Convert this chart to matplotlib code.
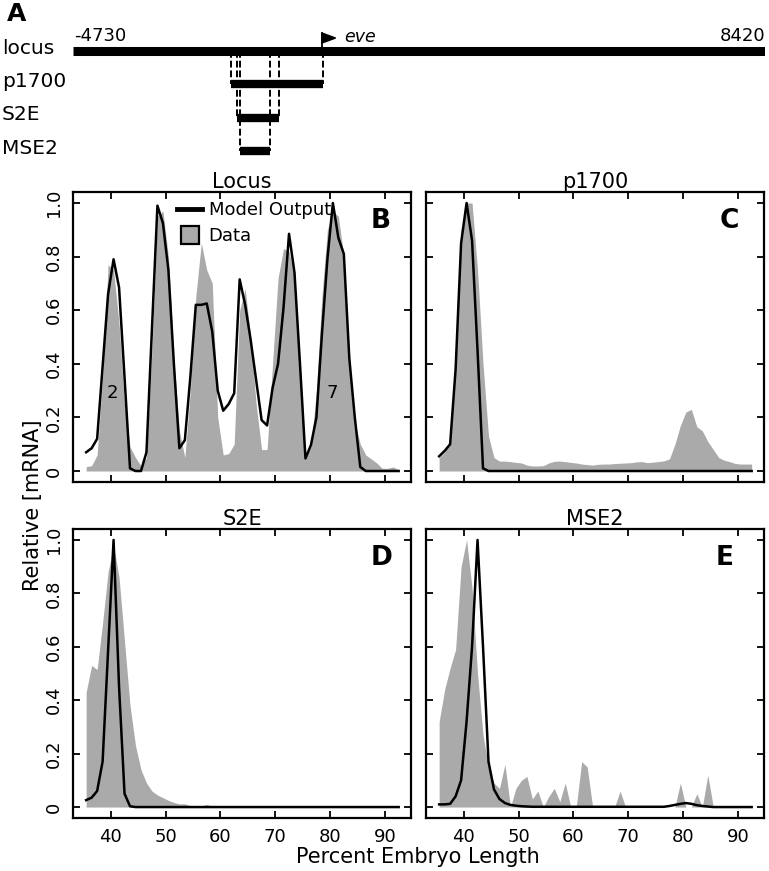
import matplotlib
matplotlib.use("Agg")
import matplotlib.pyplot as plt
from matplotlib.lines import Line2D
from matplotlib.patches import Polygon

plt.rcParams["font.family"] = ["DejaVu Sans"]

# ---- panel A: constructs on the eve locus (bp relative to TSS)
locus_start, locus_end = -4730, 8420
tss = 0
constructs = ["p1700", "S2E", "MSE2"]
construct_start = [-1730, -1620, -1560]
construct_end = [30, -820, -990]

# ---- panels B-E: expression along the embryo (% embryo length)
position = [35.5, 36.5, 37.5, 38.5, 39.5, 40.5, 41.5, 42.5, 43.5, 44.5,
            45.5, 46.5, 47.5, 48.5, 49.5, 50.5, 51.5, 52.5, 53.5, 54.5,
            55.5, 56.5, 57.5, 58.5, 59.5, 60.5, 61.5, 62.5, 63.5, 64.5,
            65.5, 66.5, 67.5, 68.5, 69.5, 70.5, 71.5, 72.5, 73.5, 74.5,
            75.5, 76.5, 77.5, 78.5, 79.5, 80.5, 81.5, 82.5, 83.5, 84.5,
            85.5, 86.5, 87.5, 88.5, 89.5, 90.5, 91.5, 92.5]

model_locus = [0.07, 0.085, 0.12, 0.39, 0.66, 0.79, 0.685, 0.35, 0.01, 0.0,
               0.0, 0.07, 0.53, 0.99, 0.925, 0.75, 0.40, 0.085, 0.115, 0.35,
               0.62, 0.62, 0.625, 0.52, 0.30, 0.225, 0.25, 0.29, 0.715, 0.62,
               0.49, 0.34, 0.19, 0.17, 0.31, 0.40, 0.61, 0.885, 0.74, 0.40,
               0.047, 0.097, 0.20, 0.51, 0.79, 1.0, 0.87, 0.81, 0.42, 0.20,
               0.015, 0.0, 0.0, 0.0, 0.0, 0.0, 0.0, 0.0]
data_locus = [0.016, 0.02, 0.06, 0.35, 0.77, 0.75, 0.55, 0.25, 0.09, 0.05,
              0.02, 0.05, 0.45, 0.95, 0.97, 0.80, 0.42, 0.15, 0.05, 0.30,
              0.65, 0.85, 0.75, 0.70, 0.20, 0.06, 0.065, 0.10, 0.60, 0.68,
              0.50, 0.25, 0.08, 0.08, 0.40, 0.72, 0.83, 0.82, 0.72, 0.35,
              0.05, 0.09, 0.30, 0.65, 0.90, 0.97, 0.95, 0.80, 0.42, 0.18,
              0.10, 0.06, 0.045, 0.03, 0.01, 0.01, 0.015, 0.005]

model_p1700 = [0.055, 0.075, 0.10, 0.38, 0.85, 1.0, 0.86, 0.45, 0.01, 0.0,
               0.0, 0.0, 0.0, 0.0, 0.0, 0.0, 0.0, 0.0, 0.0, 0.0,
               0.0, 0.0, 0.0, 0.0, 0.0, 0.0, 0.0, 0.0, 0.0, 0.0,
               0.0, 0.0, 0.0, 0.0, 0.0, 0.0, 0.0, 0.0, 0.0, 0.0,
               0.0, 0.0, 0.0, 0.0, 0.0, 0.0, 0.0, 0.0, 0.0, 0.0,
               0.0, 0.0, 0.0, 0.0, 0.0, 0.0, 0.0, 0.0]
data_p1700 = [0.05, 0.07, 0.12, 0.42, 0.90, 1.0, 1.0, 0.75, 0.40, 0.13,
              0.05, 0.037, 0.037, 0.035, 0.032, 0.03, 0.022, 0.019, 0.019, 0.02,
              0.03, 0.036, 0.037, 0.035, 0.032, 0.03, 0.026, 0.024, 0.022, 0.025,
              0.026, 0.026, 0.028, 0.029, 0.03, 0.031, 0.034, 0.035, 0.031, 0.033,
              0.035, 0.038, 0.045, 0.10, 0.17, 0.22, 0.23, 0.165, 0.15, 0.11,
              0.08, 0.05, 0.04, 0.035, 0.028, 0.026, 0.026, 0.026]

model_s2e = [0.026, 0.035, 0.06, 0.17, 0.585, 1.0, 0.45, 0.05, 0.003, 0.0,
             0.0, 0.0, 0.0, 0.0, 0.0, 0.0, 0.0, 0.0, 0.0, 0.0,
             0.0, 0.0, 0.0, 0.0, 0.0, 0.0, 0.0, 0.0, 0.0, 0.0,
             0.0, 0.0, 0.0, 0.0, 0.0, 0.0, 0.0, 0.0, 0.0, 0.0,
             0.0, 0.0, 0.0, 0.0, 0.0, 0.0, 0.0, 0.0, 0.0, 0.0,
             0.0, 0.0, 0.0, 0.0, 0.0, 0.0, 0.0, 0.0]
data_s2e = [0.43, 0.53, 0.515, 0.69, 0.88, 0.98, 0.86, 0.62, 0.38, 0.23,
            0.14, 0.09, 0.06, 0.045, 0.035, 0.025, 0.017, 0.012, 0.012, 0.005,
            0.003, 0.004, 0.01, 0.003, 0.0, 0.0, 0.0, 0.0, 0.0, 0.0,
            0.0, 0.0, 0.0, 0.0, 0.0, 0.0, 0.0, 0.0, 0.0, 0.0,
            0.0, 0.0, 0.0, 0.0, 0.0, 0.0, 0.0, 0.0, 0.0, 0.0,
            0.0, 0.0, 0.0, 0.0, 0.0, 0.0, 0.0, 0.0]

model_mse2 = [0.01, 0.01, 0.012, 0.04, 0.10, 0.32, 0.60, 1.0, 0.60, 0.17,
              0.066, 0.03, 0.015, 0.008, 0.005, 0.003, 0.002, 0.001, 0.001, 0.001,
              0.001, 0.001, 0.001, 0.001, 0.001, 0.001, 0.001, 0.001, 0.001, 0.001,
              0.001, 0.001, 0.001, 0.001, 0.001, 0.001, 0.001, 0.001, 0.001, 0.001,
              0.001, 0.001, 0.004, 0.008, 0.012, 0.015, 0.012, 0.007, 0.004, 0.002,
              0.0, 0.0, 0.0, 0.0, 0.0, 0.0, 0.0, 0.0]
data_mse2 = [0.32, 0.44, 0.52, 0.59, 0.90, 1.0, 0.82, 0.50, 0.27, 0.15,
             0.09, 0.07, 0.16, 0.0, 0.07, 0.10, 0.115, 0.03, 0.06, 0.0,
             0.04, 0.07, 0.02, 0.09, 0.0, 0.0, 0.17, 0.15, 0.0, 0.0,
             0.0, 0.0, 0.0, 0.06, 0.0, 0.0, 0.0, 0.0, 0.0, 0.0,
             0.0, 0.0, 0.0, 0.0, 0.09, 0.0, 0.0, 0.05, 0.0, 0.12,
             0.0, 0.0, 0.0, 0.0, 0.0, 0.0, 0.0, 0.0]

x_ticks = [40, 50, 60, 70, 80, 90]
y_ticks = [0, 0.2, 0.4, 0.6, 0.8, 1.0]
y_tick_labels = ["0", "0.2", "0.4", "0.6", "0.8", "1.0"]

W, H = 769, 871
fig = plt.figure(figsize=(W / 100, H / 100), dpi=100)


def px_axes(x0, y0, x1, y1):
    return fig.add_axes([x0 / W, 1 - y1 / H, (x1 - x0) / W, (y1 - y0) / H])


# ---------- panel A
axA = px_axes(73, 0, 765, 170)
axA.set_xlim(locus_start, locus_end)
axA.set_ylim(3.57, -1.518)
axA.axis("off")

for i, (s, e) in enumerate(zip(construct_start, construct_end)):
    row = i + 1
    for xe in (s, e):
        axA.plot([xe, xe], [0, row], color="black", lw=1.4, ls=(0, (3.5, 1.5)))
    axA.plot([s, e], [row, row], color="black", lw=6, solid_capstyle="butt")

axA.plot([locus_start, locus_end], [0, 0], color="black", lw=6.5,
         solid_capstyle="butt")
axA.plot([tss, tss], [0, -0.53], color="black", lw=1.3)
axA.add_patch(Polygon([[tss, -0.53], [tss + 260, -0.38], [tss, -0.23]],
                      closed=True, color="black"))
axA.text(tss + 420, -0.42, "eve", style="italic", fontsize=12.5, va="center")
axA.text(locus_start + 30, -0.45, "-4730", fontsize=13, va="center", ha="left")
axA.text(locus_end, -0.45, "8420", fontsize=13, va="center", ha="right")

for row, name in enumerate(["locus"] + constructs):
    axA.annotate(name, xy=(2 / W, row - 0.08),
                 xycoords=("figure fraction", "data"),
                 ha="left", va="center", fontsize=14.5)

fig.text(7 / W, 1 - 2 / H, "A", fontsize=18, fontweight="bold",
         ha="left", va="top")

# ---------- panels B-E
panels = [
    ((73, 192, 411, 482), "Locus", "B", 0.94, model_locus, data_locus, False, True),
    ((426, 192, 764, 482), "p1700", "C", 0.925, model_p1700, data_p1700, False, False),
    ((73, 529, 411, 818), "S2E", "D", 0.945, model_s2e, data_s2e, True, True),
    ((426, 529, 764, 818), "MSE2", "E", 0.91, model_mse2, data_mse2, True, False),
]

for box, title, letter, lx, model, data, showx, showy in panels:
    ax = px_axes(*box)
    ax.fill_between(position, data, 0, color="#aaaaaa", lw=0)
    ax.plot(position, model, color="black", lw=1.8)
    ax.set_xlim(33.1, 94.75)
    ax.set_ylim(-0.041, 1.041)
    ax.set_xticks(x_ticks)
    ax.set_yticks(y_ticks)
    ax.tick_params(direction="in", length=5, width=1.3, top=True, right=True,
                   labelsize=13, pad=7,
                   labelbottom=showx, labelleft=showy)
    if showy:
        ax.set_yticklabels(y_tick_labels, rotation=90, va="center")
    for sp in ax.spines.values():
        sp.set_linewidth(1.6)
    ax.set_title(title, fontsize=15, pad=3)
    ax.text(lx, 0.945, letter, transform=ax.transAxes, ha="right", va="top",
            fontsize=19, fontweight="bold")

    if letter == "B":
        ax.text(40.2, 0.29, "2", fontsize=13, ha="center", va="center")
        ax.text(80.4, 0.29, "7", fontsize=13, ha="center", va="center")
        handles = [Line2D([0], [0], color="black", lw=3.5),
                   Line2D([0], [0], ls="none", marker="s", markersize=13,
                          markerfacecolor="#aaaaaa", markeredgecolor="black",
                          markeredgewidth=1.6)]
        ax.legend(handles, ["Model Output", "Data"], loc="upper left",
                  bbox_to_anchor=((177 - 73) / 338, (482 - 201) / 290),
                  frameon=False, fontsize=13, handlelength=1.4,
                  handletextpad=0.35, labelspacing=0.45, borderpad=0,
                  borderaxespad=0)

fig.text(33 / W, 1 - 505 / H, "Relative [mRNA]", rotation=90, fontsize=15,
         ha="center", va="center")
fig.text(418 / W, 1 - 857 / H, "Percent Embryo Length", fontsize=15,
         ha="center", va="center")

fig.savefig("out.png", dpi=100)
